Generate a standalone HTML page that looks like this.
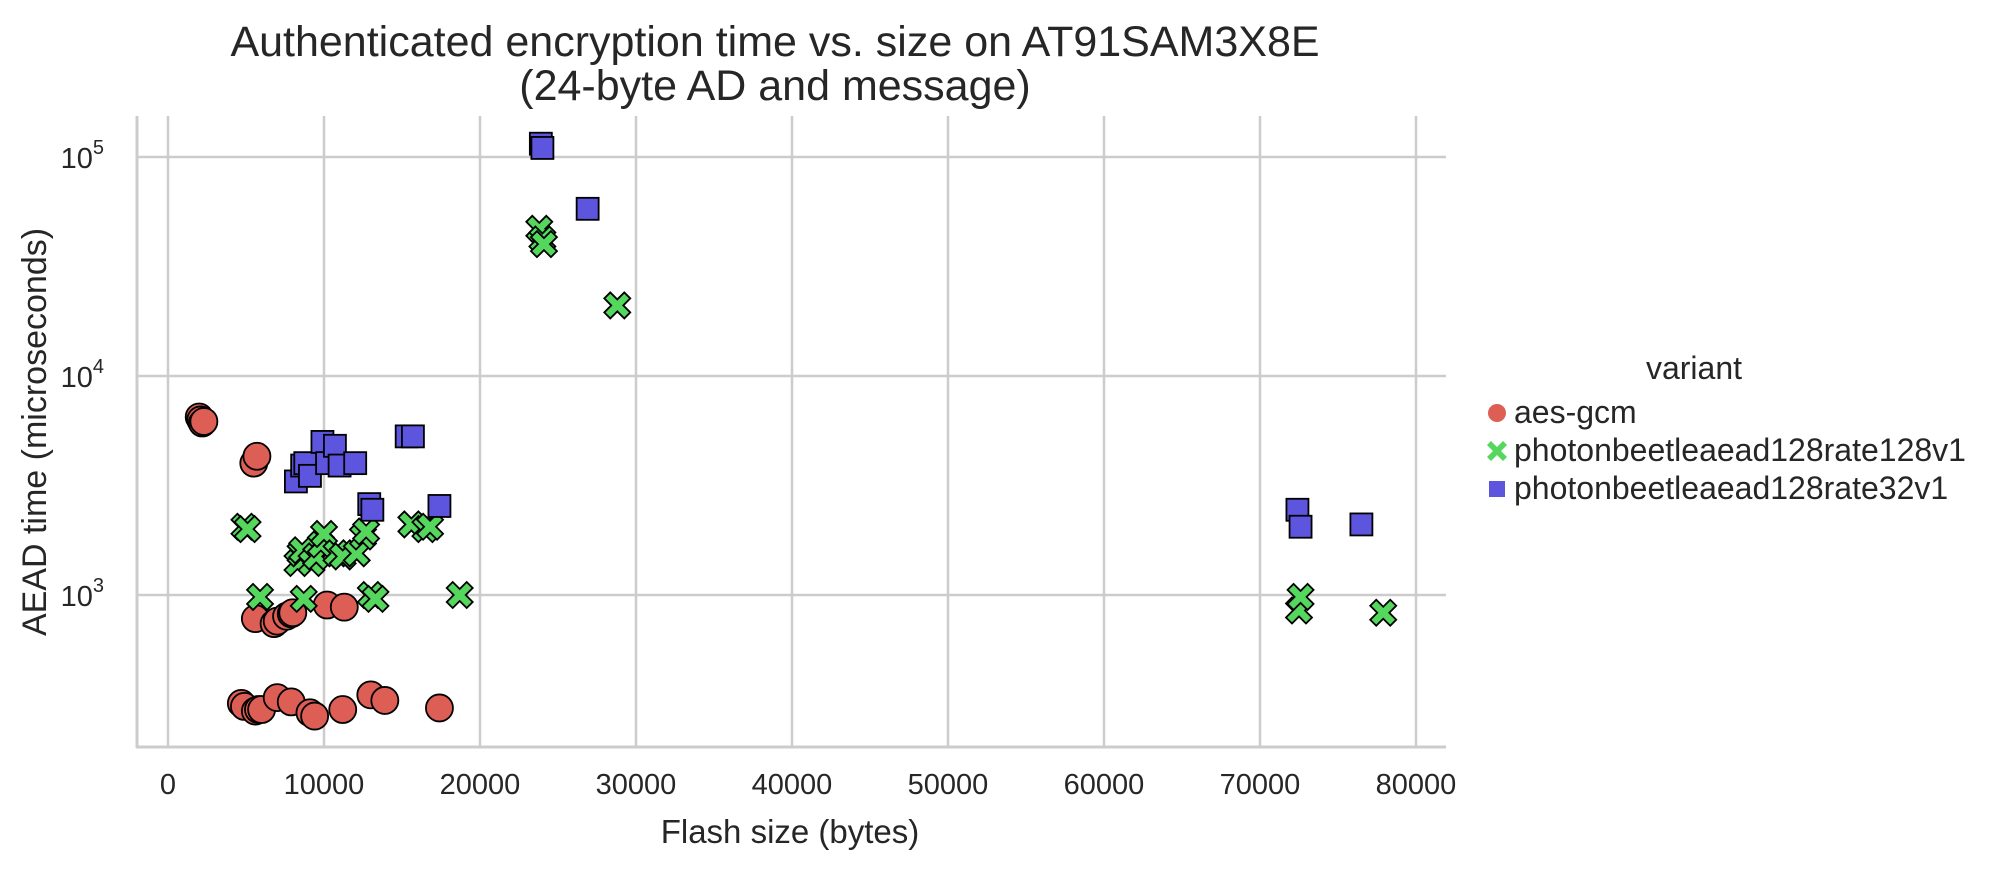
<!DOCTYPE html>
<html><head><meta charset="utf-8"><style>
body{margin:0;background:#fff;}
svg text{font-family:"Liberation Sans",sans-serif;fill:#262626;}
</style></head><body>
<svg id="chart" width="2005" height="865" xmlns="http://www.w3.org/2000/svg">
<g id="grid"></g>
<g id="marks"></g>
<g id="axes"></g>
<text x="775" y="56" font-size="43" text-anchor="middle">Authenticated encryption time vs. size on AT91SAM3X8E</text>
<text x="775" y="100" font-size="43" text-anchor="middle">(24-byte AD and message)</text>
<text x="790" y="843" font-size="33" text-anchor="middle">Flash size (bytes)</text>
<text transform="translate(46,432) rotate(-90)" font-size="34" text-anchor="middle">AEAD time (microseconds)</text>
<g>
<text x="1694" y="379" font-size="32" text-anchor="middle">variant</text>
<circle cx="1497" cy="413" r="9" fill="#dd5e55"/>
<text x="1514" y="423" font-size="32">aes-gcm</text>
<path d="M1487,445 l4,-4 6,6 6,-6 4,4 -6,6 6,6 -4,4 -6,-6 -6,6 -4,-4 6,-6z" fill="#55d75e"/>
<text x="1514" y="461" font-size="32">photonbeetleaead128rate128v1</text>
<rect x="1489" y="481" width="16" height="16" fill="#5d55dd"/>
<text x="1514" y="499" font-size="32">photonbeetleaead128rate32v1</text>
</g>
</svg>
<script>
const xTicks=[0,10000,20000,30000,40000,50000,60000,70000,80000];
const yTicks=[1000,10000,100000];
const aesX=[2000,2100,2200,2300,5500,5700,5600,6800,7000,7600,7900,8000,10200,11300,4700,4900,5600,5800,6000,7000,7900,9100,9400,11200,13000,13900,17400];
const aesY=[6500,6300,6100,6200,4000,4300,780,740,760,800,820,830,900,880,320,310,295,300,300,340,325,290,280,300,350,330,305];
const p128X=[23800,24000,24100,28800,4900,5100,5900,8300,8500,8600,8700,9200,9500,9800,10000,10800,11200,12100,12500,12700,13000,13300,15600,16500,16800,18700,72500,72600,77900];
const p128Y=[47000,42000,40000,21000,2050,2000,980,1400,1550,1600,960,1400,1500,1700,1900,1550,1500,1550,1850,1950,1000,960,2100,2000,2050,1000,850,980,830];
const p32X=[23900,24000,26900,8200,8600,8800,9100,9900,10200,10700,11000,12000,12900,13100,15300,15700,17400,72400,72600,76500];
const p32Y=[115000,110000,58000,3300,3900,4000,3500,5000,4000,4800,3900,4000,2600,2450,5300,5300,2550,2450,2050,2100];

const L=137,R=1446,T=116,B=747;
const xs=v=>168+v*0.0156;
const ys=v=>157+(5-Math.log10(v))*219;
const NS='http://www.w3.org/2000/svg';
function mk(tag,attrs,parent){const e=document.createElementNS(NS,tag);for(const k in attrs)e.setAttribute(k,attrs[k]);parent.appendChild(e);return e;}
const grid=document.getElementById('grid'),axes=document.getElementById('axes'),marks=document.getElementById('marks');
xTicks.forEach(t=>{
  const l=mk('line',{x1:xs(t),x2:xs(t),y1:T,y2:B,stroke:'#cccccc','stroke-width':2.5},grid);
  
  
  const tx=mk('text',{x:xs(t),y:794,'font-size':29,'text-anchor':'middle'},axes);
  tx.textContent=t;
  
  
});
yTicks.forEach(t=>{
  const l=mk('line',{x1:L,x2:R,y1:ys(t),y2:ys(t),stroke:'#cccccc','stroke-width':2.5},grid);
  
  
  const tx=mk('text',{x:104,y:ys(t)+11,'font-size':29,'text-anchor':'end'},axes);
  tx.innerHTML='10<tspan dy="-14" font-size="20">'+Math.round(Math.log10(t))+'</tspan>';
  
  
});
const sp1=mk('line',{x1:L,x2:L,y1:T,y2:B+1,stroke:'#cccccc','stroke-width':3},axes);


const sp2=mk('line',{x1:L-1,x2:R,y1:B,y2:B,stroke:'#cccccc','stroke-width':3},axes);



aesX.forEach((x,i)=>{
  const c=mk('circle',{cx:xs(x),cy:ys(aesY[i]),r:13.5,fill:'#dd5e55',stroke:'#000','stroke-width':1.8},marks);
  
  
});
p128X.forEach((x,i)=>{
  const cx=xs(x),cy=ys(p128Y[i]);
  const p=mk('path',{d:`M${cx-13},${cy-7} l6,-6 7,7 7,-7 6,6 -7,7 7,7 -6,6 -7,-7 -7,7 -6,-6 7,-7z`,fill:'#55d75e',stroke:'#000','stroke-width':1.8},marks);
  
  
});
p32X.forEach((x,i)=>{
  const r=mk('rect',{x:xs(x)-11,y:ys(p32Y[i])-11,width:22,height:22,fill:'#5d55dd',stroke:'#000','stroke-width':1.8},marks);
  
  
});
</script>
</body></html>
